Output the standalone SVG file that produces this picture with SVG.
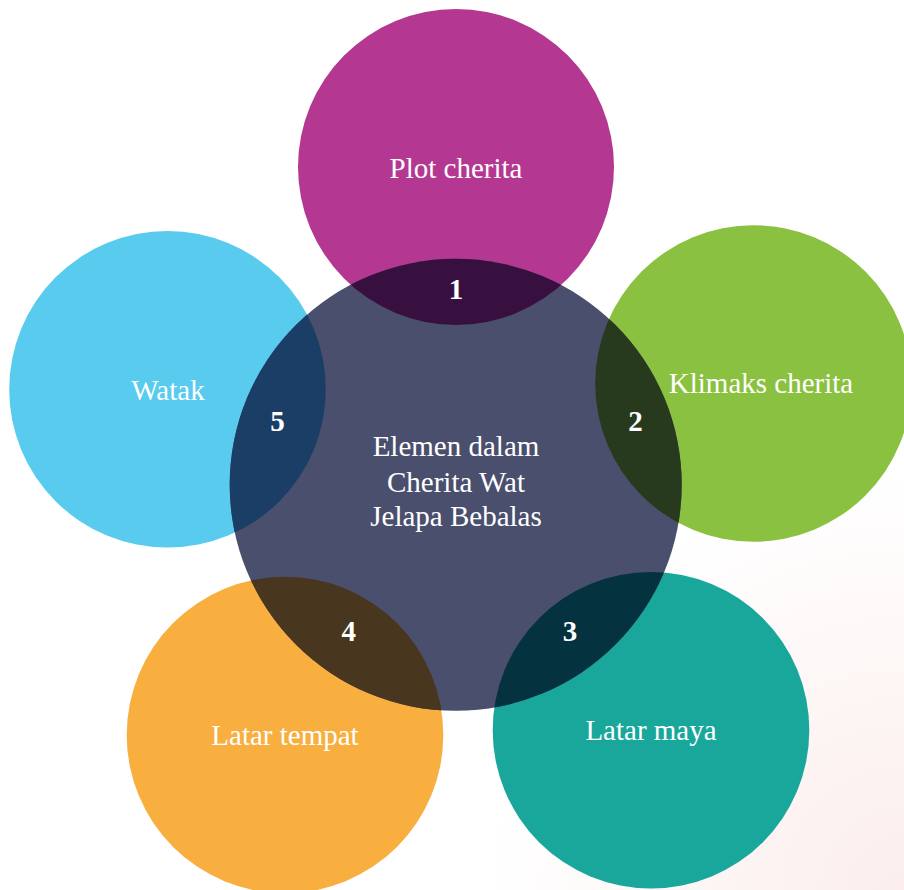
<svg xmlns="http://www.w3.org/2000/svg" width="904" height="890" viewBox="0 0 904 890">
  <defs>
    <radialGradient id="bg" cx="904" cy="890" r="420" gradientUnits="userSpaceOnUse">
      <stop offset="0" stop-color="#fbeeec"/>
      <stop offset="1" stop-color="#ffffff"/>
    </radialGradient>
    <clipPath id="centerClip">
      <circle cx="455.7" cy="484.8" r="226"/>
    </clipPath>
    <style>
      .lbl { font-family: "Liberation Serif", "Times New Roman", serif; font-size: 29px; fill: #ffffff; text-anchor: middle; }
      .num { font-family: "Liberation Serif", "Times New Roman", serif; font-size: 29px; font-weight: bold; fill: #ffffff; text-anchor: middle; }
    </style>
  </defs>
  <rect x="0" y="0" width="904" height="890" fill="url(#bg)"/>

  <g id="node-plot">
    <circle cx="456" cy="167" r="158" fill="#b43892"/>
  </g>
  <g id="node-klimaks">
    <circle cx="753.5" cy="383.5" r="158.3" fill="#8bc140"/>
  </g>
  <g id="node-latar-maya">
    <circle cx="651" cy="730.2" r="158.3" fill="#19a79c"/>
  </g>
  <g id="node-latar-tempat">
    <circle cx="285" cy="735" r="158.3" fill="#f8af40"/>
  </g>
  <g id="node-watak">
    <circle cx="167.5" cy="389.3" r="158.3" fill="#59cbee"/>
  </g>

  <g id="node-center">
    <circle cx="455.7" cy="484.8" r="226" fill="#4a4f6e"/>
  </g>

  <g id="overlaps" clip-path="url(#centerClip)">
    <circle cx="456" cy="167" r="158" fill="#38103f"/>
    <circle cx="753.5" cy="383.5" r="158.3" fill="#283a1e"/>
    <circle cx="651" cy="730.2" r="158.3" fill="#04323f"/>
    <circle cx="285" cy="735" r="158.3" fill="#48361e"/>
    <circle cx="167.5" cy="389.3" r="158.3" fill="#1b3e66"/>
  </g>

  <g id="connectors"></g>

  <g id="labels">
    <text class="lbl" x="456" y="177.7">Plot cherita</text>
    <text class="lbl" x="761" y="393.3">Klimaks cherita</text>
    <text class="lbl" x="651" y="740">Latar maya</text>
    <text class="lbl" x="285" y="745">Latar tempat</text>
    <text class="lbl" x="168" y="400">Watak</text>
    <text class="lbl" x="456" y="456">Elemen dalam</text>
    <text class="lbl" x="456" y="491.5">Cherita Wat</text>
    <text class="lbl" x="456" y="526">Jelapa Bebalas</text>
  </g>
  <g id="numbers">
    <text class="num" x="456" y="299">1</text>
    <text class="num" x="635.5" y="430.7">2</text>
    <text class="num" x="570" y="640.7">3</text>
    <text class="num" x="348.8" y="640.7">4</text>
    <text class="num" x="277.5" y="430.7">5</text>
  </g>
</svg>
